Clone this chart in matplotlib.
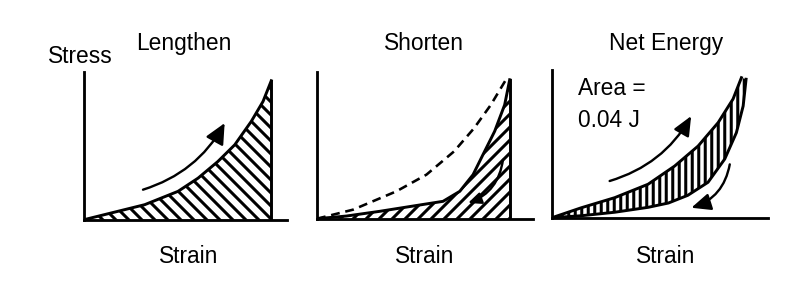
import numpy as np
import matplotlib
matplotlib.use("Agg")
import matplotlib.pyplot as plt

# strain / stress (normalised: end of loading = 1, 1)
len_x = [0, 0.324, 0.502, 0.609, 0.715, 0.805, 0.893, 0.956, 1.0]
len_y = [0, 0.108, 0.204, 0.299, 0.419, 0.539, 0.707, 0.851, 1.0]

dash_x = [0, 0.187, 0.412, 0.568, 0.711, 0.815, 0.902, 0.976]
dash_y = [0, 0.065, 0.197, 0.317, 0.484, 0.651, 0.819, 0.99]

sho_x = [0, 0.152, 0.325, 0.498, 0.654, 0.741, 0.81, 0.861, 0.922, 0.974, 1.0]
sho_y = [0, 0.019, 0.053, 0.091, 0.125, 0.197, 0.317, 0.46, 0.629, 0.82, 1.0]

up_x = [0, 0.151, 0.323, 0.495, 0.632, 0.753, 0.856, 0.933, 0.976]
up_y = [0, 0.071, 0.143, 0.239, 0.369, 0.512, 0.679, 0.848, 1.0]
low_x = [0, 0.151, 0.323, 0.495, 0.6, 0.7, 0.804, 0.89, 0.95, 0.985, 1.0]
low_y = [0, 0.014, 0.039, 0.074, 0.105, 0.16, 0.253, 0.419, 0.607, 0.798, 0.989]

titles = ["Lengthen", "Shorten", "Net Energy"]
xlabel = "Strain"
ylabel = "Stress"
area_text = ["Area =", "0.04 J"]

# arrows: (tail, tip) in data units of each panel
arrow1 = [(0.315, 0.216), (0.751, 0.695)]
arrow2 = [(0.965, 0.424), (0.784, 0.113)]
arrow3a = [(0.297, 0.262), (0.717, 0.726)]
arrow3b = [(0.916, 0.381), (0.718, 0.071)]

DPI = 78
plt.rcParams["font.family"] = ["Liberation Sans", "DejaVu Sans"]
plt.rcParams["hatch.linewidth"] = 2.8
fs = 21
lw = 2.7

fig = plt.figure(figsize=(812 / DPI, 304 / DPI), dpi=DPI)
W, H = 812, 304

def make_ax(left, right, bottom, top, xmax, ymax):
    ax = fig.add_axes([left / W, 1 - bottom / H, (right - left) / W, (bottom - top) / H])
    ax.set_xlim(0, xmax)
    ax.set_ylim(0, ymax)
    for s in ["top", "right"]:
        ax.spines[s].set_visible(False)
    for s in ["left", "bottom"]:
        ax.spines[s].set_linewidth(2.6)
    ax.set_xticks([])
    ax.set_yticks([])
    ax.patch.set_alpha(0)
    return ax

def arrow(ax, pts, rad, hl, hw):
    ax.annotate("", xy=pts[1], xytext=pts[0],
                arrowprops=dict(arrowstyle="-|>,head_length=%g,head_width=%g" % (hl, hw),
                                connectionstyle="arc3,rad=%g" % rad,
                                lw=2.2, color="black", shrinkA=0, shrinkB=0,
                                mutation_scale=20))

# Lengthen
ax1 = make_ax(84, 287, 219.7, 72, 1.084, 1.063)
ax1.fill_between(len_x, len_y, facecolor="white", edgecolor="black", linewidth=0, hatch="\\\\")
ax1.plot(len_x, len_y, color="black", lw=lw)
ax1.plot([len_x[-1], len_x[-1]], [0, len_y[-1]], color="black", lw=lw)
arrow(ax1, arrow1, 0.2, 0.8, 0.38)

# Shorten
ax2 = make_ax(317, 533, 218.7, 71.7, 1.121, 1.058)
ax2.fill_between(sho_x, sho_y, facecolor="white", edgecolor="black", linewidth=0, hatch="//")
ax2.plot(dash_x, dash_y, color="black", lw=2.4, dashes=(3.4, 2.2))
ax2.plot(sho_x, sho_y, color="black", lw=lw)
ax2.plot([sho_x[-1], sho_x[-1]], [0, sho_y[-1]], color="black", lw=lw)
arrow(ax2, arrow2, -0.3, 0.5, 0.22)

# Net energy
ax3 = make_ax(552, 768, 217.7, 70, 1.113, 1.055)
loop_x = np.concatenate([up_x, low_x[::-1]])
loop_y = np.concatenate([up_y, low_y[::-1]])
ax3.fill(loop_x, loop_y, facecolor="white", edgecolor="black", linewidth=0, hatch="||")
ax3.plot(up_x, up_y, color="black", lw=lw)
ax3.plot(low_x, low_y, color="black", lw=lw)
arrow(ax3, arrow3a, 0.2, 0.75, 0.33)
arrow(ax3, arrow3b, -0.3, 0.75, 0.33)

# labels
fig.text(48 / W, 1 - 63 / H, ylabel, fontsize=fs, ha="left", va="baseline")
for cx, t in zip([184, 424, 666], titles):
    fig.text(cx / W, 1 - 50 / H, t, fontsize=fs, ha="center", va="baseline")
for cx in [189, 425, 666]:
    fig.text(cx / W, 1 - 263 / H, xlabel, fontsize=fs, ha="center", va="baseline")
fig.text(578 / W, 1 - 95 / H, area_text[0], fontsize=fs, ha="left", va="baseline")
fig.text(578 / W, 1 - 127 / H, area_text[1], fontsize=fs, ha="left", va="baseline")

fig.savefig("out.png", dpi=DPI)
